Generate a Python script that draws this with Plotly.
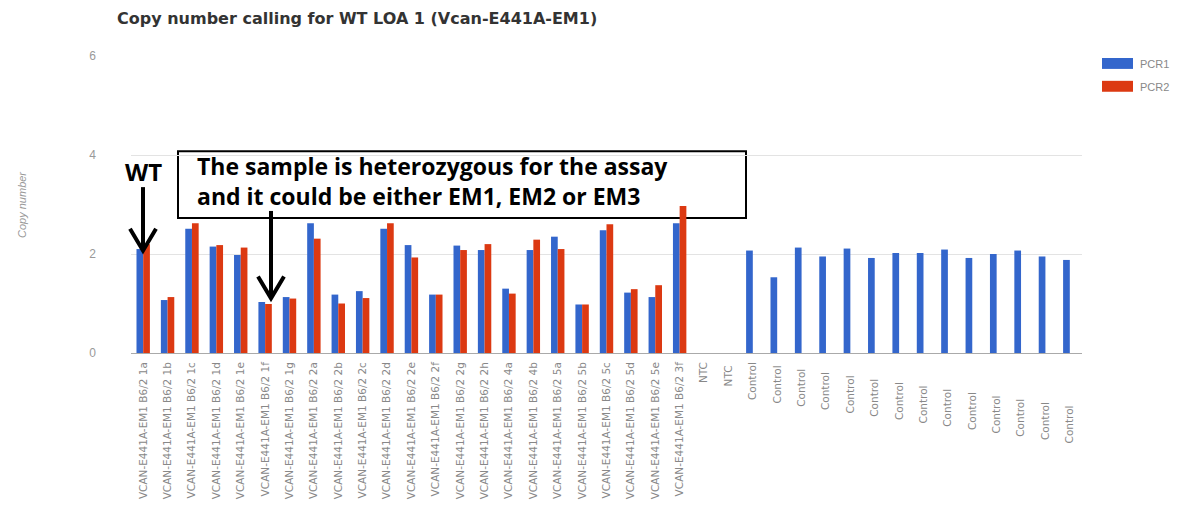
import plotly.graph_objects as go

# ---------------- data ----------------
sample_suffixes = ["1a", "1b", "1c", "1d", "1e", "1f", "1g", "2a", "2b", "2c", "2d", "2e",
                   "2f", "2g", "2h", "4a", "4b", "5a", "5b", "5c", "5d", "5e", "3f"]
sample_labels = ["VCAN-E441A-EM1 B6/2 " + s for s in sample_suffixes]
ntc_labels = ["NTC", "NTC "]
control_labels = ["Control" + " " * i for i in range(14)]
categories = sample_labels + ntc_labels + control_labels

pcr1_samples = [2.10, 1.07, 2.51, 2.15, 1.98, 1.03, 1.13, 2.62, 1.18, 1.25, 2.51, 2.18,
                1.18, 2.17, 2.08, 1.30, 2.08, 2.35, 0.98, 2.48, 1.22, 1.13, 2.62]
pcr2_samples = [2.20, 1.13, 2.62, 2.18, 2.13, 0.99, 1.10, 2.31, 1.00, 1.11, 2.62, 1.93,
                1.18, 2.08, 2.20, 1.20, 2.29, 2.10, 0.98, 2.60, 1.29, 1.37, 2.97]
pcr1_controls = [2.07, 1.53, 2.13, 1.95, 2.11, 1.92, 2.02, 2.02, 2.09, 1.92, 2.00, 2.07, 1.95, 1.88]

pcr1 = pcr1_samples + [None, None] + pcr1_controls
pcr2 = pcr2_samples + [None, None] + [None] * len(pcr1_controls)

y_ticks = [0, 2, 4, 6]

# ---------------- layout helpers (reference pixel -> paper) ----------------
OFF = 8                      # page body margin
W, H = 1193 - OFF, 511 - OFF
L, R, T, B = 131, 1082, 56, 355   # plot area in reference pixels


def px(x):
    return (x - L) / (R - L)


def py(y):
    return (B - y) / (B - T)


BLUE = "#3366CC"
RED = "#DC3912"

fig = go.Figure()
fig.add_trace(go.Bar(x=categories, y=pcr1, name="PCR1", marker_color=BLUE, marker_line_width=0))
fig.add_trace(go.Bar(x=categories, y=pcr2, name="PCR2", marker_color=RED, marker_line_width=0))

shapes = []
annotations = []

# annotation box (below bars, above grid)
shapes.append(dict(type="rect", xref="paper", yref="paper",
                   x0=px(178), x1=px(746), y0=py(219), y1=py(152),
                   line=dict(color="black", width=2), fillcolor="white", layer="below"))


def arrow(x, y0, y1, half_w, head_h):
    res = []
    res.append(dict(type="line", xref="paper", yref="paper", x0=px(x), x1=px(x),
                    y0=py(y0), y1=py(y1 - 2), line=dict(color="black", width=4), layer="above"))
    res.append(dict(type="path", xref="paper", yref="paper",
                    path=f"M {px(x - half_w)},{py(y1 - head_h)} L {px(x)},{py(y1)} L {px(x + half_w)},{py(y1 - head_h)}",
                    line=dict(color="black", width=4), layer="above"))
    return res


shapes += arrow(143, 188, 252, 13, 22)
shapes += arrow(271, 212, 300, 13, 22)

# legend (manual)
shapes.append(dict(type="rect", xref="paper", yref="paper", x0=px(1102), x1=px(1133),
                   y0=py(69), y1=py(58), fillcolor=BLUE, line_width=0))
shapes.append(dict(type="rect", xref="paper", yref="paper", x0=px(1102), x1=px(1133),
                   y0=py(92), y1=py(81), fillcolor=RED, line_width=0))
annotations.append(dict(text="PCR1", xref="paper", yref="paper", x=px(1138), y=py(64),
                        xanchor="left", yanchor="middle", showarrow=False,
                        font=dict(family="Liberation Sans, Arial", size=11, color="#888")))
annotations.append(dict(text="PCR2", xref="paper", yref="paper", x=px(1138), y=py(87),
                        xanchor="left", yanchor="middle", showarrow=False,
                        font=dict(family="Liberation Sans, Arial", size=11, color="#888")))

# text annotations
annotations.append(dict(text="<b>WT</b>", xref="paper", yref="paper", x=px(143), y=py(172),
                        xanchor="center", yanchor="middle", showarrow=False,
                        font=dict(family="Open Sans, Arial", size=24, color="black")))
annotations.append(dict(text="<b>The sample is heterozygous for the assay<br>and it could be either EM1, EM2 or EM3</b>",
                        xref="paper", yref="paper", x=px(195), y=py(182),
                        xanchor="left", yanchor="middle", align="left", showarrow=False,
                        font=dict(family="Open Sans, Arial", size=23, color="black")))

# y axis title (italic)
annotations.append(dict(text="<i>Copy number</i>", xref="paper", yref="paper", x=px(22), y=py(206),
                        xanchor="center", yanchor="middle", textangle=-90, showarrow=False,
                        font=dict(family="Liberation Sans, Arial", size=11, color="#999")))

fig.update_layout(
    width=W, height=H,
    margin=dict(l=L - OFF, r=W - (R - OFF), t=T - OFF, b=H - (B - OFF), pad=0),
    paper_bgcolor="white", plot_bgcolor="white",
    barmode="group", bargap=0.45, bargroupgap=0.0,
    showlegend=False,
    title=dict(text="<b>Copy number calling for WT LOA 1 (Vcan-E441A-EM1)</b>",
               xref="container", yref="container", x=(117 - OFF) / W, y=1 - (18 - OFF) / H,
               xanchor="left", yanchor="middle",
               font=dict(family="DejaVu Sans, Arial", size=16, color="#333")),
    xaxis=dict(type="category", categoryorder="array", categoryarray=categories,
               tickangle=-90, showgrid=False, showline=False, ticks="",
               ticklabelstandoff=6,
               tickfont=dict(family="DejaVu Sans, Arial", size=10.5, color="#888"),
               range=[-0.5, len(categories) - 0.5]),
    yaxis=dict(range=[0, 6], tickvals=y_ticks, showgrid=True, gridcolor="#e3e3e3", gridwidth=1,
               zeroline=True, zerolinecolor="#aaa", zerolinewidth=1, showline=False, ticks="",
               ticklabelstandoff=34,
               tickfont=dict(family="Liberation Sans, Arial", size=12, color="#999")),
    shapes=shapes, annotations=annotations,
)

fig.write_html("out.html")
